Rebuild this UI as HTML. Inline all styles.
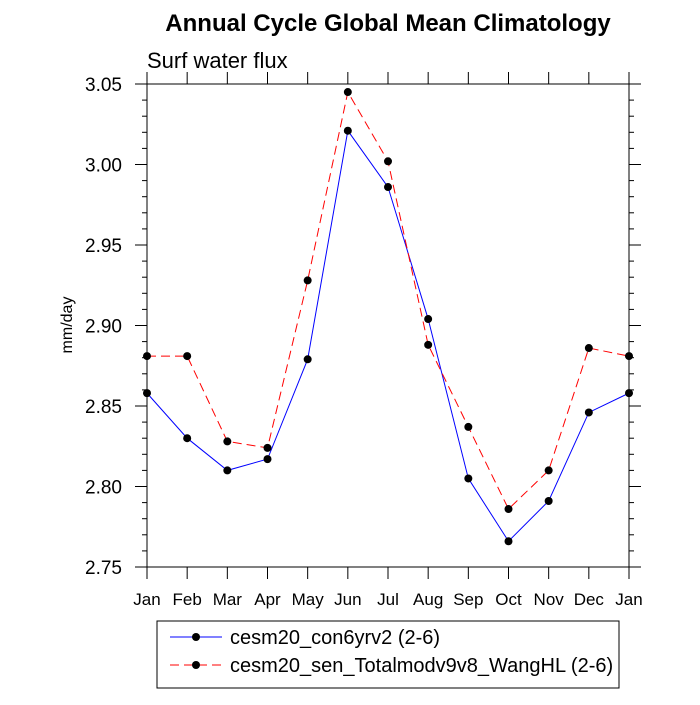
<!DOCTYPE html>
<html><head><meta charset="utf-8"><style>body{margin:0;background:#fff}svg text{font-family:"Liberation Sans",sans-serif}</style></head>
<body>
<svg id="chart" width="700" height="700" xmlns="http://www.w3.org/2000/svg">
<text x="388" y="31" text-anchor="middle" font-size="24" font-weight="bold">Annual Cycle Global Mean Climatology</text>
<text x="147" y="68" font-size="22">Surf water flux</text>
<text transform="translate(72,325) rotate(-90)" text-anchor="middle" font-size="16">mm/day</text>
<g id="axes"></g>
<g id="series"></g>
<g>
<rect x="157" y="621" width="462" height="67" fill="none" stroke="#000" stroke-width="1"/>
<line x1="170" y1="637" x2="222" y2="637" stroke="#0000ff" stroke-width="1"/>
<circle cx="196" cy="637" r="4" fill="#000"/>
<text x="230" y="644" font-size="20">cesm20_con6yrv2 (2-6)</text>
<line x1="170" y1="665" x2="222" y2="665" stroke="#ff0000" stroke-width="1" stroke-dasharray="9,5"/>
<circle cx="196" cy="665" r="4" fill="#000"/>
<text x="230" y="672" font-size="20">cesm20_sen_Totalmodv9v8_WangHL (2-6)</text>
</g>
</svg>
<script>
const months=["Jan","Feb","Mar","Apr","May","Jun","Jul","Aug","Sep","Oct","Nov","Dec","Jan"];
const yTicks=[2.75,2.80,2.85,2.90,2.95,3.00,3.05];
const yTickLabels=["2.75","2.80","2.85","2.90","2.95","3.00","3.05"];
const controlValues=[2.858,2.830,2.810,2.817,2.879,3.021,2.986,2.904,2.805,2.766,2.791,2.846,2.858];
const sensValues=[2.881,2.881,2.828,2.824,2.928,3.045,3.002,2.888,2.837,2.786,2.810,2.886,2.881];
const L=147,R=629,T=84,B=567,ymin=2.75,ymax=3.05;
const xs=i=>L+(R-L)*i/(months.length-1);
const ys=v=>B-(v-ymin)/(ymax-ymin)*(B-T);
const NS="http://www.w3.org/2000/svg";
function mk(tag,attrs,parent){const e=document.createElementNS(NS,tag);for(const k in attrs)e.setAttribute(k,attrs[k]);parent.appendChild(e);return e;}
const ax=document.getElementById('axes');
const frame=mk('rect',{x:L,y:T,width:R-L,height:B-T,fill:'none',stroke:'#000','stroke-width':1},ax);


months.forEach((m,i)=>{const x=xs(i);
mk('line',{x1:x,y1:B,x2:x,y2:B+12,stroke:'#000'},ax);
mk('line',{x1:x,y1:T,x2:x,y2:T-12,stroke:'#000'},ax);
const t=mk('text',{x:x,y:605,'text-anchor':'middle','font-size':17},ax);t.textContent=m;

});
for(let v=ymin;v<=ymax+1e-9;v+=0.01){const y=ys(v);const major=Math.abs(Math.round(v*100)%5)<0.5;const len=major?12:5;
mk('line',{x1:L,y1:y,x2:L-len,y2:y,stroke:'#000'},ax);mk('line',{x1:R,y1:y,x2:R+len,y2:y,stroke:'#000'},ax);}
yTicks.forEach((v,i)=>{const t=mk('text',{x:122,y:ys(v)+7,'text-anchor':'end','font-size':19},ax);t.textContent=yTickLabels[i];

});
const sg=document.getElementById('series');
function draw(vals,color,dash,name){const p=mk('polyline',{points:vals.map((v,i)=>xs(i)+','+ys(v)).join(' '),fill:'none',stroke:color,'stroke-width':1,'stroke-dasharray':dash},sg);


vals.forEach((v,i)=>{const c=mk('circle',{cx:xs(i),cy:ys(v),r:4,fill:'#000'},sg);

});}
draw(controlValues,'#0000ff','none','control');
draw(sensValues,'#ff0000','9,5','sensitivity');
</script>
</body></html>
